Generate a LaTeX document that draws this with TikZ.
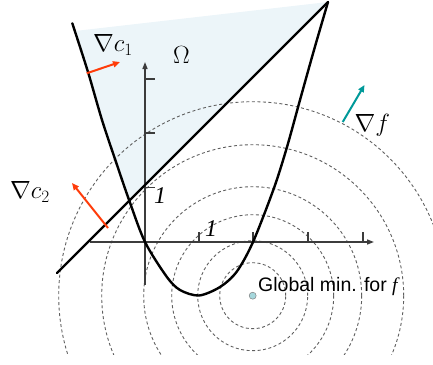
\documentclass[tikz,border=0pt]{standalone}
\usepackage{fontspec}
\setmainfont{Liberation Sans}
\newfontfamily\tnr{Liberation Serif}
\usetikzlibrary{arrows.meta}
\definecolor{fillblue}{RGB}{236,245,249}
\definecolor{gradred}{RGB}{255,60,10}
\definecolor{gradteal}{RGB}{0,153,153}
\definecolor{axisgray}{RGB}{60,60,60}
\definecolor{circgray}{RGB}{95,95,95}
\definecolor{dotblue}{RGB}{165,215,220}
\begin{document}
\begin{tikzpicture}[x=1pt,y=-1pt,
  curve/.style={line width=2.4pt, line join=round, line cap=round},
  axisline/.style={axisgray, line width=1.4pt},
  axisarrow/.style={axisline, -{Triangle[length=7pt,width=5pt]}},
  level/.style={circgray, line width=0.9pt, dash pattern=on 3pt off 2.5pt},
  gradarrow/.style={line width=2pt, -{Triangle[length=7pt,width=6pt]}},
  mathlabel/.style={inner sep=0pt, anchor=base west, font=\fontsize{24}{28}\selectfont},
  ticklabel/.style={inner sep=0pt, anchor=base west, font=\tnr\itshape\fontsize{24}{28}\selectfont},
  textlabel/.style={inner sep=0pt, anchor=base west, font=\fontsize{19.5}{22}\selectfont},
]
\useasboundingbox (0,0) rectangle (433,364);

% feasible region
\fill[fillblue] plot[smooth] coordinates {(75,31) (88,72) (102,120) (116,162) (129.3,200.7)} -- (328,2) -- cycle;

% level sets of f
\coordinate (gmin) at (252.7,295.7);
\begin{scope}
  \clip (0,0) rectangle (433,354);
  \foreach \r in {33,55,81,109,151,194}
    \draw[level] (gmin) circle[radius=\r pt];
\end{scope}

% axes
\coordinate (xa) at (90,242);
\coordinate (xb) at (374,242);
\coordinate (ya) at (145,285);
\coordinate (yb) at (145,62);
\draw[axisarrow] (xa) -- (xb);
\draw[axisarrow] (ya) -- (yb);
\foreach \x in {199,253,308,363}
  \draw[axisline] (\x,242) -- (\x,232);
\foreach \y in {79,133,187.5}
  \draw[axisline] (145,\y) -- (155,\y);
\node[ticklabel] (one-y) at (154,203) {1};
\node[ticklabel] (one-x) at (205,236.5) {1};

% constraint curves
\draw[curve] plot[smooth] coordinates {(72.3,23.3) (88,72) (102,120) (116,162) (129.3,200.7) (145,242) (166.7,276.7) (180,290) (199,295.5) (220,287) (236.7,271.7) (253,242) (274,188) (287,147) (300,100) (314,50) (328,2)};
\coordinate (la) at (57,273);
\coordinate (lb) at (328,2);
\draw[curve] (la) -- (lb);

% gradients
\coordinate (c1a) at (86.7,73.3);
\coordinate (c1b) at (120,62);
\draw[gradarrow, gradred] (c1a) -- (c1b);
\coordinate (c2a) at (108,228);
\coordinate (c2b) at (72,183);
\draw[gradarrow, gradred] (c2a) -- (c2b);
\coordinate (fa) at (342.7,122);
\coordinate (fb) at (364.5,85);
\draw[gradarrow, gradteal] (fa) -- (fb);

% labels
\node[mathlabel] (lc1) at (93,51.7) {$\nabla c_1$};
\node[mathlabel, font=\fontsize{26}{30}\selectfont] (lom) at (173,63) {$\Omega$};
\node[mathlabel] (lc2) at (10,198.5) {$\nabla c_2$};
\node[mathlabel] (lf) at (354.5,131.5) {$\nabla f$};

% global minimum
\fill[dotblue, draw=gray, line width=0.5pt] (gmin) circle[radius=3.5pt];
\node[textlabel] (gtext) at (258,291.5) {Global min. for {\tnr\itshape f}};
\end{tikzpicture}
\end{document}
